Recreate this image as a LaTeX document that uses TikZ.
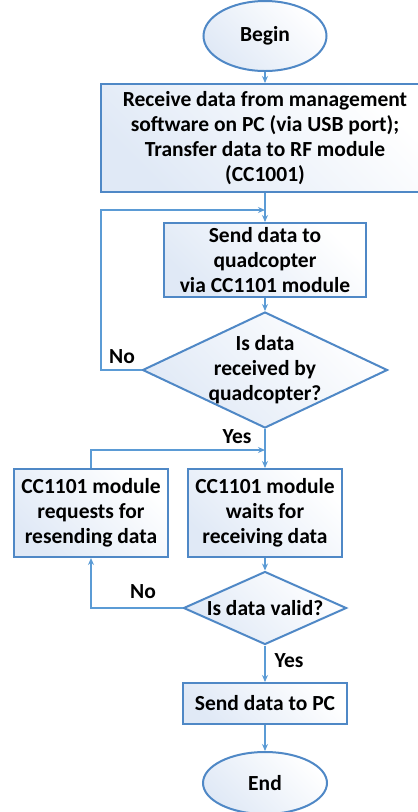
\documentclass[tikz,border=0pt]{standalone}
\usepackage{fontspec}
\setmainfont{Carlito}
\usepackage{tikz}
\usetikzlibrary{shapes.geometric, arrows.meta, positioning}

\definecolor{lineblue}{RGB}{91,155,213}
\definecolor{edgeblue}{RGB}{79,136,198}
\definecolor{fillblue}{RGB}{224,233,246}

\tikzset{
    shapebase/.style={draw=edgeblue, line width=2pt, inner sep=0pt, align=center,
        left color=fillblue, right color=white, shading angle=135,
        font=\bfseries\fontsize{21.5}{25}\selectfont},
    procbox/.style={shapebase, rectangle},
    termbox/.style={shapebase, ellipse},
    decbox/.style={shapebase, diamond},
    arr/.style={draw=lineblue, line width=1.5pt, -{Stealth[length=7pt,width=6pt]}},
    lbl/.style={font=\bfseries\fontsize{21.5}{25}\selectfont}
}

\begin{document}
\begin{tikzpicture}[x=1pt, y=-1pt]
    \useasboundingbox (0,0) rectangle (418,812);

    % Terminals and steps
    \node[termbox, minimum width=123pt, minimum height=70pt] (begin) at (265,36) {Begin};
    \node[procbox, minimum width=328pt, minimum height=108pt] (recv) at (265,138)
        {Receive data from management\\software on PC (via USB port);\\Transfer data to RF module\\(CC1001)};
    \node[procbox, minimum width=202pt, minimum height=74pt] (send) at (265,260)
        {Send data to\\quadcopter\\via CC1101 module};
    \node[decbox, minimum width=245pt, minimum height=116pt,
        label={[lbl, align=center]center:Is data\\received by\\quadcopter?}] (recvd) at (265,370) {};
    \node[procbox, minimum width=154pt, minimum height=88pt] (req) at (91,513)
        {CC1101 module\\requests for\\resending data};
    \node[procbox, minimum width=154pt, minimum height=88pt] (wait) at (265,513)
        {CC1101 module\\waits for\\receiving data};
    \node[decbox, minimum width=163pt, minimum height=73pt,
        label={[lbl]center:Is data valid?}] (valid) at (265,608) {};
    \node[procbox, minimum width=164pt, minimum height=41pt] (topc) at (265,703.5) {Send data to PC};
    \node[termbox, minimum width=124pt, minimum height=62pt] (end) at (265,783) {End};

    % Loop points
    \coordinate (loopA) at (101,210);
    \coordinate (joinA) at (265,210);
    \coordinate (joinB) at (265,450);

    % Connectors
    \draw[arr] (begin) -- (recv);
    \draw[arr] (recv) -- (send);
    \draw[arr] (recvd.west) -- (loopA |- recvd.west) -- (loopA) -- (joinA);
    \draw[arr] (send) -- (recvd);
    \draw[arr] (recvd) -- (wait);
    \draw[arr] (req.north) |- (joinB);
    \draw[arr] (wait) -- (valid);
    \draw[arr] (valid.west) -| (req.south);
    \draw[arr] (valid) -- (topc);
    \draw[arr] (topc) -- (end);

    % Branch labels
    \node[lbl] (no1) at (122,357) {No};
    \node[lbl] (yes1) at (237,437) {Yes};
    \node[lbl] (no2) at (143,592) {No};
    \node[lbl] (yes2) at (289,661) {Yes};
\end{tikzpicture}
\end{document}
